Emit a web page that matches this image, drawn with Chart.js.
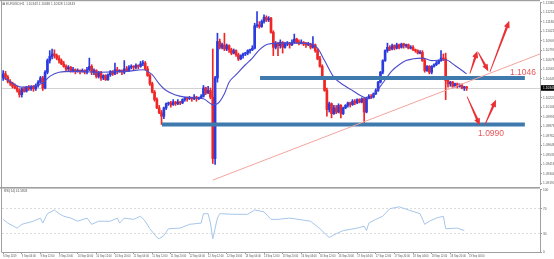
<!DOCTYPE html>
<html>
<head>
<meta charset="utf-8">
<script src="https://cdn.jsdelivr.net/npm/chart.js@4.4.1/dist/chart.umd.min.js"></script>
<style>
  html, body { margin: 0; padding: 0; background: #fff; }
  #wrap { position: relative; width: 554px; height: 259px; overflow: hidden; }
  #wrap canvas { position: absolute; left: 0; }
  #price { top: 0; width: 554px; height: 187px; }
  #rsi { top: 187px; width: 554px; height: 72px; }
</style>
</head>
<body>
<div id="wrap">
  <canvas id="price" width="554" height="187"></canvas>
  <canvas id="rsi" width="554" height="72"></canvas>
</div>
<script>
// EURUSD H1, 6 Sep 20:00 .. 19 Sep 03:00 (one entry per hourly bar)
const OPENS = [
  1.1046,1.1051,1.1047,1.1042,1.1040,1.1036,1.1034,1.1031,1.1026,1.1033,
  1.1030,1.1035,1.1033,1.1036,1.1033,1.1037,1.1041,1.1046,1.1034,1.1053,
  1.1067,1.1072,1.1075,1.1073,1.1070,1.1067,1.1063,1.1060,1.1057,1.1059,
  1.1055,1.1056,1.1054,1.1055,1.1054,1.1055,1.1053,1.1056,1.1060,1.1053,
  1.1055,1.1048,1.1053,1.1046,1.1049,1.1044,1.1050,1.1054,1.1051,1.1056,
  1.1054,1.1055,1.1053,1.1057,1.1055,1.1059,1.1060,1.1059,1.1061,1.1060,
  1.1063,1.1064,1.1057,1.1049,1.1039,1.1029,1.1020,1.1010,1.1004,1.1000,
  1.1010,1.1015,1.1016,1.1014,1.1017,1.1015,1.1017,1.1016,1.1020,1.1022,
  1.1021,1.1022,1.1021,1.1023,1.1021,1.1022,1.1024,1.1034,1.1028,1.1031,
  1.1023,1.0949,1.1046,1.1090,1.1083,1.1086,1.1081,1.1085,1.1080,1.1076,
  1.1079,1.1074,1.1069,1.1073,1.1075,1.1076,1.1079,1.1080,1.1082,1.1109,
  1.1110,1.1108,1.1114,1.1119,1.1116,1.1118,1.1101,1.1083,1.1088,1.1085,
  1.1089,1.1083,1.1087,1.1088,1.1086,1.1089,1.1093,1.1089,1.1088,1.1089,
  1.1087,1.1086,1.1087,1.1083,1.1086,1.1079,1.1069,1.1060,1.1046,1.1031,
  1.1008,1.1015,1.1003,1.1010,1.1005,1.1013,1.1003,1.1010,1.1013,1.1016,
  1.1014,1.1018,1.1016,1.1020,1.1017,1.1021,1.1005,1.1022,1.1024,1.1023,
  1.1027,1.1031,1.1041,1.1053,1.1067,1.1079,1.1083,1.1081,1.1085,1.1082,
  1.1086,1.1083,1.1087,1.1085,1.1086,1.1082,1.1083,1.1080,1.1079,1.1076,
  1.1077,1.1067,1.1055,1.1060,1.1053,1.1060,1.1062,1.1064,1.1067,1.1070,
  1.1069,1.1043,1.1039,1.1041,1.1036,1.1039,1.1036,1.1037,1.1034,1.1035
];
const HIGHS = [
  1.1055,1.1054,1.1049,1.1044,1.1041,1.1039,1.1036,1.1033,1.1034,1.1035,
  1.1036,1.1037,1.1037,1.1037,1.1039,1.1043,1.1048,1.1048,1.1055,1.1069,
  1.1079,1.1081,1.1080,1.1075,1.1073,1.1069,1.1066,1.1062,1.1061,1.1060,
  1.1059,1.1057,1.1057,1.1056,1.1057,1.1056,1.1059,1.1070,1.1062,1.1057,
  1.1056,1.1054,1.1054,1.1050,1.1050,1.1051,1.1055,1.1055,1.1064,1.1059,
  1.1056,1.1056,1.1067,1.1060,1.1061,1.1062,1.1061,1.1063,1.1062,1.1066,
  1.1067,1.1066,1.1060,1.1051,1.1041,1.1031,1.1022,1.1013,1.1007,1.1011,
  1.1016,1.1017,1.1018,1.1020,1.1018,1.1020,1.1018,1.1021,1.1023,1.1023,
  1.1024,1.1023,1.1026,1.1024,1.1023,1.1026,1.1037,1.1035,1.1036,1.1034,
  1.1081,1.1048,1.1100,1.1093,1.1088,1.1100,1.1087,1.1086,1.1082,1.1081,
  1.1080,1.1076,1.1074,1.1076,1.1077,1.1080,1.1081,1.1085,1.1112,1.1126,
  1.1114,1.1116,1.1122,1.1121,1.1120,1.1119,1.1103,1.1090,1.1089,1.1092,
  1.1090,1.1089,1.1090,1.1089,1.1092,1.1099,1.1094,1.1092,1.1092,1.1090,
  1.1089,1.1089,1.1088,1.1096,1.1087,1.1081,1.1072,1.1062,1.1048,1.1034,
  1.1017,1.1016,1.1013,1.1013,1.1015,1.1014,1.1011,1.1014,1.1017,1.1017,
  1.1020,1.1020,1.1021,1.1021,1.1022,1.1022,1.1023,1.1026,1.1026,1.1028,
  1.1033,1.1042,1.1054,1.1068,1.1080,1.1088,1.1085,1.1087,1.1086,1.1088,
  1.1087,1.1088,1.1088,1.1087,1.1087,1.1085,1.1085,1.1081,1.1080,1.1079,
  1.1079,1.1069,1.1061,1.1061,1.1061,1.1063,1.1066,1.1068,1.1079,1.1075,
  1.1076,1.1044,1.1042,1.1042,1.1040,1.1040,1.1039,1.1039,1.1036,1.1036
];
const LOWS = [
  1.1043,1.1044,1.1040,1.1037,1.1034,1.1033,1.1029,1.1023,1.1023,1.1029,
  1.1029,1.1031,1.1031,1.1030,1.1031,1.1035,1.1040,1.1031,1.1033,1.1051,
  1.1064,1.1069,1.1070,1.1068,1.1064,1.1062,1.1059,1.1055,1.1055,1.1053,
  1.1053,1.1051,1.1053,1.1051,1.1053,1.1051,1.1051,1.1055,1.1050,1.1050,
  1.1046,1.1046,1.1043,1.1044,1.1043,1.1043,1.1048,1.1049,1.1050,1.1051,
  1.1053,1.1050,1.1051,1.1054,1.1054,1.1057,1.1056,1.1057,1.1057,1.1059,
  1.1061,1.1056,1.1048,1.1037,1.1028,1.1018,1.1009,1.1003,1.0990,1.0997,
  1.1008,1.1013,1.1011,1.1013,1.1013,1.1014,1.1014,1.1015,1.1018,1.1018,
  1.1020,1.1018,1.1020,1.1018,1.1020,1.1021,1.1023,1.1026,1.1027,1.1021,
  1.0943,1.0942,1.1041,1.1081,1.1081,1.1079,1.1079,1.1077,1.1074,1.1075,
  1.1072,1.1067,1.1068,1.1070,1.1073,1.1074,1.1076,1.1079,1.1081,1.1107,
  1.1106,1.1107,1.1112,1.1114,1.1114,1.1100,1.1073,1.1081,1.1073,1.1082,
  1.1076,1.1082,1.1085,1.1082,1.1085,1.1088,1.1088,1.1086,1.1087,1.1085,
  1.1083,1.1085,1.1081,1.1082,1.1077,1.1068,1.1059,1.1044,1.1030,1.1000,
  1.1005,1.0998,1.1002,1.1003,1.1004,1.0998,1.1002,1.1009,1.1011,1.1011,
  1.1013,1.1014,1.1015,1.1016,1.1016,1.0991,1.1004,1.1021,1.1021,1.1022,
  1.1026,1.1030,1.1040,1.1051,1.1066,1.1077,1.1079,1.1080,1.1080,1.1081,
  1.1081,1.1082,1.1082,1.1083,1.1081,1.1081,1.1079,1.1077,1.1075,1.1075,
  1.1066,1.1053,1.1054,1.1051,1.1051,1.1059,1.1061,1.1063,1.1066,1.1067,
  1.1020,1.1035,1.1036,1.1034,1.1035,1.1034,1.1035,1.1033,1.1031,1.1031
];
const CLOSES = [
  1.1051,1.1047,1.1042,1.1040,1.1036,1.1034,1.1031,1.1026,1.1033,1.1030,
  1.1035,1.1033,1.1036,1.1033,1.1037,1.1041,1.1046,1.1034,1.1053,1.1067,
  1.1072,1.1075,1.1073,1.1070,1.1067,1.1063,1.1060,1.1057,1.1059,1.1055,
  1.1056,1.1054,1.1055,1.1054,1.1055,1.1053,1.1056,1.1060,1.1053,1.1055,
  1.1048,1.1053,1.1046,1.1049,1.1044,1.1050,1.1054,1.1051,1.1056,1.1054,
  1.1055,1.1053,1.1057,1.1055,1.1059,1.1060,1.1059,1.1061,1.1060,1.1063,
  1.1064,1.1057,1.1049,1.1039,1.1029,1.1020,1.1010,1.1004,1.1000,1.1010,
  1.1015,1.1016,1.1014,1.1017,1.1015,1.1017,1.1016,1.1020,1.1022,1.1021,
  1.1022,1.1021,1.1023,1.1021,1.1022,1.1024,1.1034,1.1028,1.1031,1.1023,
  1.0949,1.1046,1.1090,1.1083,1.1086,1.1081,1.1085,1.1080,1.1076,1.1079,
  1.1074,1.1069,1.1073,1.1075,1.1076,1.1079,1.1080,1.1082,1.1109,1.1110,
  1.1108,1.1114,1.1119,1.1116,1.1118,1.1101,1.1083,1.1088,1.1085,1.1089,
  1.1083,1.1087,1.1088,1.1086,1.1089,1.1093,1.1089,1.1088,1.1089,1.1087,
  1.1086,1.1087,1.1083,1.1086,1.1079,1.1069,1.1060,1.1046,1.1031,1.1008,
  1.1015,1.1003,1.1010,1.1005,1.1013,1.1003,1.1010,1.1013,1.1016,1.1014,
  1.1018,1.1016,1.1020,1.1017,1.1021,1.1005,1.1022,1.1024,1.1023,1.1027,
  1.1031,1.1041,1.1053,1.1067,1.1079,1.1083,1.1081,1.1085,1.1082,1.1086,
  1.1083,1.1087,1.1085,1.1086,1.1082,1.1083,1.1080,1.1079,1.1076,1.1077,
  1.1067,1.1055,1.1060,1.1053,1.1060,1.1062,1.1064,1.1067,1.1070,1.1069,
  1.1043,1.1039,1.1041,1.1036,1.1039,1.1036,1.1037,1.1034,1.1035,1.1034
];

// moving average, sampled at bar indices
const MA_BARS = [0,8,13,17,20,24,30,42,53,60,64,67,70,78,86,90,92,95,97,100,104,107,110,114,120,127,132,135,138,142,147,150,154,157,160,163,167,170,173,180,184,190,194,199];
const MA_VALUES = [1.1047,1.1035,1.1036,1.1040,1.1048,1.1053,1.1054,1.1053,1.1054,1.1056,1.1050,1.1039,1.1031,1.1023,1.1021,1.1014,1.1015,1.1027,1.1041,1.1050,1.1062,1.1070,1.1080,1.1087,1.1088,1.1088,1.1087,1.1082,1.1067,1.1047,1.1036,1.1031,1.1024,1.1021,1.1029,1.1040,1.1055,1.1062,1.1067,1.1070,1.1067,1.1068,1.1061,1.1051];

// RSI(14), sampled at bar indices
const RSI_BARS = [0,2,6,8,13,16,17,19,22,24,26,29,32,36,38,41,46,49,50,52,56,59,61,63,66,67,69,71,76,80,85,86,88,89,90,92,93,99,105,108,112,115,118,123,132,136,140,143,146,152,155,156,157,160,163,166,170,174,179,181,183,186,189,190,195,198];
const RSI_VALUES = [53,47,39,45,50,55,47,62,68,62,58,55,50,55,45,50,50,55,47,55,53,58,50,38,24,22,27,38,39,45,47,62,62,47,22,55,62,61,61,68,65,53,53,55,50,38,24,30,35,39,42,35,47,53,58,70,73,68,62,45,50,55,58,38,39,35];
const RSI_LEVELS = [0, 30, 70, 100];

const TIME_LABELS = ['6 Sep 2019','9 Sep 04:00','9 Sep 12:00','9 Sep 20:00','10 Sep 04:00','10 Sep 12:00','10 Sep 20:00','11 Sep 04:00','11 Sep 12:00','11 Sep 20:00','12 Sep 04:00','12 Sep 12:00','12 Sep 20:00','13 Sep 04:00','13 Sep 12:00','13 Sep 20:00','16 Sep 04:00','16 Sep 12:00','16 Sep 20:00','17 Sep 04:00','17 Sep 12:00','17 Sep 20:00','18 Sep 04:00','18 Sep 12:00','18 Sep 20:00','19 Sep 04:00'];
const LABEL_EVERY = 8;

// drawn analysis: horizontal levels, trend line, scenario arrows
const LEVEL_PRICES = [1.1046, 1.0990];
const LEVEL_FROM_BARS = [110.3, 68.2];
const LEVEL_TO_BAR = 224;
const TREND_BARS = [90, 230.5];
const TREND_PRICES = [1.0923, 1.1075];
const ARROWS = [
  [200.4, 1.10512, 203.6, 1.10787],
  [204.0, 1.10767, 208.3, 1.10541],
  [209.0, 1.10533, 217.3, 1.11149],
  [199.2, 1.10236, 204.7, 1.09890],
  [206.9, 1.09900, 211.6, 1.10197]
];

const PRICE_MAX = 1.11365;
const PRICE_MIN = 1.09182;
const PRICE_STEP = 0.001145;
const BAR_MIN = -0.5;
const BAR_MAX = 230.5;

const BULL = '#2a3ce0';
const BEAR = '#f02626';
const RED_INK = '#ea3035';
const AXIS_GRAY = '#a0a0a0';
const TINY = 3.2;
const FONT = 'Arial, "Liberation Sans", sans-serif';

const bars = OPENS.map((_, i) => i);
const candleColors = bars.map((i) => (CLOSES[i] >= OPENS[i] ? BULL : BEAR));
const lastClose = CLOSES[CLOSES.length - 1];

const drawArrow = (ctx, x0, y0, x1, y1) => {
  const ang = Math.atan2(y1 - y0, x1 - x0);
  const head = 7;
  const half = 3;
  const cos = Math.cos(ang);
  const sin = Math.sin(ang);
  const bx = x1 - head * cos;
  const by = y1 - head * sin;

  ctx.fillStyle = RED_INK;
  ctx.beginPath();
  ctx.moveTo(x0 + 0.4 * sin, y0 - 0.4 * cos);
  ctx.lineTo(bx + 1.2 * sin, by - 1.2 * cos);
  ctx.lineTo(bx + half * sin, by - half * cos);
  ctx.lineTo(x1, y1);
  ctx.lineTo(bx - half * sin, by + half * cos);
  ctx.lineTo(bx - 1.2 * sin, by + 1.2 * cos);
  ctx.lineTo(x0 - 0.4 * sin, y0 + 0.4 * cos);
  ctx.closePath();
  ctx.fill();
};

const priceDecor = {
  id: `priceDecor`,
  beforeDatasetsDraw(chart) {
    const {ctx, chartArea: a, scales: {y}} = chart;
    const yy = Math.round(y.getPixelForValue(lastClose)) + 0.5;
    ctx.save();
    ctx.strokeStyle = '#d2d2d2';
    ctx.lineWidth = 1;
    ctx.beginPath();
    ctx.moveTo(a.left, yy);
    ctx.lineTo(a.right, yy);
    ctx.stroke();
    ctx.restore();
  },
  afterDatasetsDraw(chart) {
    const {ctx, scales: {x, y}} = chart;
    ctx.save();
    ARROWS.forEach(([b0, p0, b1, p1]) => {
      drawArrow(ctx, x.getPixelForValue(b0), y.getPixelForValue(p0), x.getPixelForValue(b1), y.getPixelForValue(p1));
    });
    ctx.fillStyle = '#e9585b';
    ctx.font = `8.5px ${FONT}`;
    ctx.textBaseline = 'alphabetic';
    ctx.fillText(LEVEL_PRICES[0].toFixed(4), x.getPixelForValue(217.6), y.getPixelForValue(LEVEL_PRICES[0]) - 3.5);
    ctx.fillText(LEVEL_PRICES[1].toFixed(4), x.getPixelForValue(203.9), y.getPixelForValue(LEVEL_PRICES[1]) + 12);
    ctx.restore();
  },
  afterDraw(chart) {
    const {ctx, chartArea: a, scales: {y}} = chart;
    ctx.save();
    ctx.fillStyle = AXIS_GRAY;
    ctx.fillRect(0, 0, a.right, 1.2);
    ctx.fillRect(1, 0, 1, chart.height);
    // current bid tag on the price axis
    const yy = y.getPixelForValue(lastClose);
    ctx.fillStyle = '#000';
    ctx.fillRect(a.right + 1, yy - 2.8, 14, 5.6);
    ctx.fillStyle = '#fff';
    ctx.font = `${TINY}px ${FONT}`;
    ctx.textBaseline = 'middle';
    ctx.fillText('1.10343', a.right + 3, yy);
    ctx.fillStyle = '#555';
    ctx.fillText('EURUSD,H1  1.10343 1.10348 1.10328 1.10343', 6, 4);
    ctx.fillStyle = '#9a9a9a';
    ctx.fillRect(2.5, 2.5, 2.5, 2.5);
    ctx.restore();
  }
};

const rsiDecor = {
  id: `rsiDecor`,
  afterDraw(chart) {
    const {ctx, chartArea: a} = chart;
    ctx.save();
    ctx.fillStyle = AXIS_GRAY;
    ctx.fillRect(0, 0, a.right, 1.6);
    ctx.fillRect(1, 0, 1, a.bottom);
    ctx.fillStyle = '#555';
    ctx.font = `${TINY}px ${FONT}`;
    ctx.textBaseline = 'middle';
    ctx.fillText('RSI(14) 41.5803', 4, 4);
    ctx.restore();
  }
};

new Chart(document.getElementById('price'), {
  type: 'bar',
  plugins: [priceDecor],
  data: {
    datasets: [
      {
        type: 'line',
        data: TREND_BARS.map((b, i) => ({x: b, y: TREND_PRICES[i]})),
        borderColor: '#f3a49d',
        borderWidth: 1,
        pointRadius: 0,
        order: 1,
      },
      ...LEVEL_PRICES.map((p, i) => ({
        type: 'line',
        data: [{x: LEVEL_FROM_BARS[i], y: p}, {x: LEVEL_TO_BAR, y: p}],
        borderColor: '#3f7aae',
        borderWidth: 4,
        borderCapStyle: 'butt',
        pointRadius: 0,
        order: 1,
      })),
      {
        type: 'line',
        data: MA_BARS.map((b, i) => ({x: b, y: MA_VALUES[i]})),
        borderColor: '#4b4bcc',
        borderWidth: 1.1,
        pointRadius: 0,
        cubicInterpolationMode: 'monotone',
        order: 2,
      },
      {
        data: bars.map((i) => ({x: i, y: [LOWS[i], HIGHS[i]]})),
        backgroundColor: candleColors,
        barThickness: 1,
        grouped: false,
        order: 4,
      },
      {
        data: bars.map((i) => ({x: i, y: [OPENS[i], CLOSES[i]]})),
        backgroundColor: candleColors,
        barThickness: 2,
        minBarLength: 1,
        grouped: false,
        order: 3,
      },
    ],
  },
  options: {
    animation: false,
    responsive: false,
    devicePixelRatio: 1,
    layout: {padding: {left: 2, top: 1, right: 0, bottom: 1}},
    plugins: {legend: {display: false}, tooltip: {enabled: false}},
    scales: {
      x: {type: 'linear', min: BAR_MIN, max: BAR_MAX, offset: false, display: false},
      y: {
        position: 'right',
        min: PRICE_MIN,
        max: PRICE_MAX,
        afterBuildTicks: (s) => {
          s.ticks = Array.from({length: 20}, (_, k) => ({value: PRICE_MAX - k * PRICE_STEP}));
        },
        afterFit: (s) => { s.width = 14; },
        ticks: {font: {size: TINY, family: FONT}, color: '#555', padding: 1, callback: (v) => v.toFixed(5)},
        grid: {drawOnChartArea: false, tickLength: 2, tickColor: '#999'},
        border: {color: AXIS_GRAY},
      },
    },
  },
});

new Chart(document.getElementById('rsi'), {
  type: 'line',
  plugins: [rsiDecor],
  data: {
    datasets: [{
      data: RSI_BARS.map((b, i) => ({x: b, y: RSI_VALUES[i]})),
      borderColor: '#a6c6ea',
      borderWidth: 1,
      pointRadius: 0,
      tension: 0,
    }],
  },
  options: {
    animation: false,
    responsive: false,
    devicePixelRatio: 1,
    layout: {padding: {left: 2, top: 0.5, right: 0, bottom: 0}},
    plugins: {legend: {display: false}, tooltip: {enabled: false}},
    scales: {
      x: {
        type: 'linear',
        min: BAR_MIN,
        max: BAR_MAX,
        offset: false,
        afterBuildTicks: (s) => {
          s.ticks = TIME_LABELS.map((_, i) => ({value: i * LABEL_EVERY}));
        },
        afterFit: (s) => { s.height = 6.5; },
        ticks: {
          autoSkip: false,
          maxRotation: 0,
          minRotation: 0,
          align: 'start',
          padding: 0.5,
          font: {size: 2.6, family: FONT},
          color: '#555',
          callback: (v, i) => TIME_LABELS[i],
        },
        grid: {display: true, drawOnChartArea: false, tickLength: 1.5, tickColor: '#999'},
        border: {display: true, color: AXIS_GRAY},
      },
      y: {
        position: 'right',
        min: 0,
        max: 100,
        afterBuildTicks: (s) => {
          s.ticks = RSI_LEVELS.map((v) => ({value: v}));
        },
        afterFit: (s) => { s.width = 14; },
        ticks: {font: {size: TINY, family: FONT}, color: '#555', padding: 1},
        grid: {
          color: (c) => (c.tick && (c.tick.value === 30 || c.tick.value === 70) ? '#dcdcdc' : 'rgba(0,0,0,0)'),
          tickColor: '#999',
          tickLength: 2,
        },
        border: {color: AXIS_GRAY, dash: [2, 2]},
      },
    },
  },
});
</script>
</body>
</html>
